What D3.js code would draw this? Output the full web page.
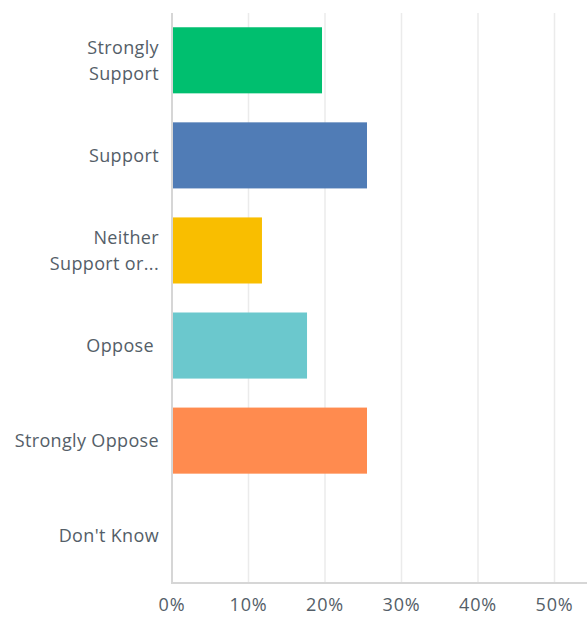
<!DOCTYPE html>
<html>
<head>
<meta charset="utf-8">
<script src="https://cdn.jsdelivr.net/npm/d3@7"></script>
<style>
  body { margin: 0; background: #fff; }
  svg text { font-family: "Open Sans", sans-serif; fill: #545e68; }
</style>
</head>
<body>
<svg width="587" height="617"></svg>
<script>
// answers and share of responses (%)
const categories = ["Strongly Support", "Support", "Neither Support or...", "Oppose\u00a0", "Strongly Oppose", "Don't Know"];
const labelLines = [["Strongly", "Support"], ["Support"], ["Neither", "Support or..."], ["Oppose\u00a0"], ["Strongly Oppose"], ["Don't Know"]];
const values = [19.61, 25.49, 11.76, 17.65, 25.49, 0];
const colors = ["#00bf6f", "#507cb6", "#f9be00", "#6bc8cd", "#ff8b4f", "#b5b5b5"];
const tickValues = [0, 10, 20, 30, 40, 50];

const svg = d3.select("svg");
const margin = { top: 13, left: 172, bottom: 34 };
const height = +svg.attr("height");

const x = d3.scaleLinear().domain([0, 50]).range([margin.left, 554.5]);
const y = d3.scaleBand().domain(categories).range([margin.top, height - margin.bottom]).paddingInner(0.305).paddingOuter(0.15);

// gridlines
svg.selectAll("line.grid")
  .data(tickValues.slice(1))
  .enter().append("line")
  .attr("class", "grid")
  .attr("x1", d => x(d)).attr("x2", d => x(d))
  .attr("y1", margin.top).attr("y2", height - margin.bottom)
  .style("stroke", "#ebebeb")
  .style("stroke-width", 1.5);

// bars
svg.selectAll("rect.bar")
  .data(values)
  .enter().append("rect")
  .attr("class", "bar")
  .attr("x", x(0))
  .attr("y", (d, i) => y(categories[i]))
  .attr("width", d => x(d) - x(0))
  .attr("height", y.bandwidth())
  .style("fill", (d, i) => colors[i]);

// axis lines
svg.append("line")
  .attr("x1", x(0)).attr("x2", x(0))
  .attr("y1", margin.top).attr("y2", height - margin.bottom)
  .style("stroke", "#d6d6d6").style("stroke-width", 2);
svg.append("line")
  .attr("x1", x(0) - 1).attr("x2", 587)
  .attr("y1", height - margin.bottom).attr("y2", height - margin.bottom)
  .style("stroke", "#d6d6d6").style("stroke-width", 2);

// category labels
const lineH = 26;
svg.selectAll("text.cat")
  .data(labelLines)
  .enter().append("text")
  .attr("class", "cat")
  .attr("text-anchor", "end")
  .attr("font-size", 18)
  .attr("letter-spacing", 0.35)
  .each(function (lines, i) {
    const cy = y(categories[i]) + y.bandwidth() / 2;
    const t = d3.select(this);
    lines.forEach((l, j) => {
      t.append("tspan")
        .attr("x", 159)
        .attr("y", cy + (j - (lines.length - 1) / 2) * lineH)
        .attr("dy", "0.35em")
        .text(l);
    });
  });

// tick labels
svg.selectAll("text.tick")
  .data(tickValues)
  .enter().append("text")
  .attr("class", "tick")
  .attr("x", d => x(d))
  .attr("y", 611)
  .attr("text-anchor", "middle")
  .attr("font-size", 18)
  .attr("letter-spacing", 0.8)
  .text(d => d + "%");
</script>
</body>
</html>
